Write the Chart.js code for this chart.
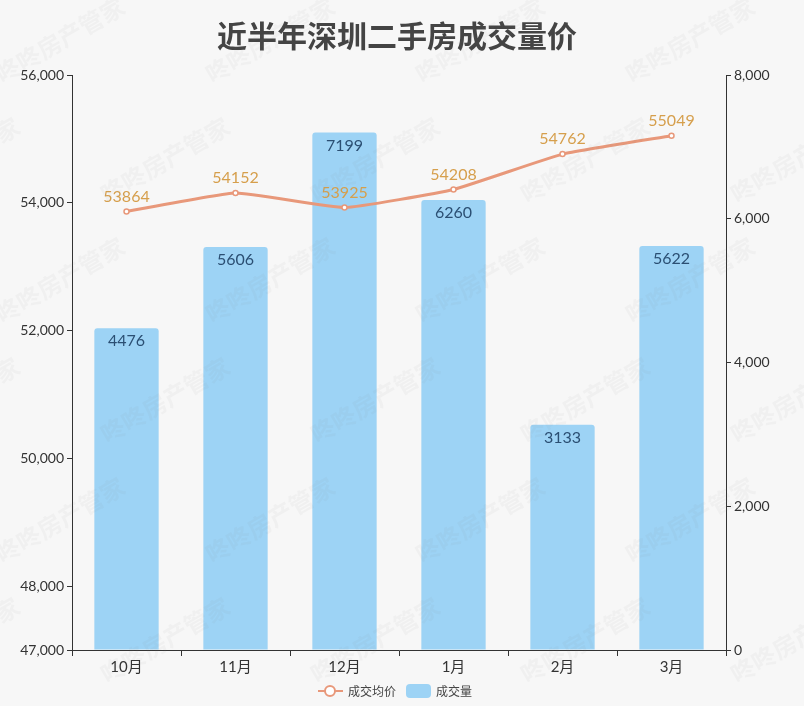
<!DOCTYPE html>
<html>
<head>
<meta charset="utf-8">
<script src="https://cdn.jsdelivr.net/npm/chart.js@4/dist/chart.umd.min.js"></script>
<style>
  html, body { margin: 0; padding: 0; background: #f7f7f7; }
  .chart-container { width: 804px; height: 706px; position: relative; }
</style>
</head>
<body>
<div class="chart-container"><canvas id="chart"></canvas></div>
<script>
// 数据
const months = ['10月', '11月', '12月', '1月', '2月', '3月'];
const volume = [4476, 5606, 7199, 6260, 3133, 5622]; // 成交量
const avgPrice = [53864, 54152, 53925, 54208, 54762, 55049]; // 成交均价
const priceTicks = [47000, 48000, 50000, 52000, 54000, 56000];
const volumeTicks = [0, 2000, 4000, 6000, 8000];

const FONT = "Lato, 'Noto Sans CJK SC', sans-serif";
const LINE_COLOR = '#e8987a';
const BAR_COLOR = '#9dd3f5';

// 标题、水印、数值标签、图例
const decorPlugin = {
  id: 'decor',
  beforeDraw(chart) {
    const ctx = chart.ctx;
    ctx.save();
    ctx.fillStyle = '#f7f7f7';
    ctx.fillRect(0, 0, chart.width, chart.height);
    ctx.fillStyle = '#444';
    ctx.font = "bold 30px 'Noto Sans CJK SC', sans-serif";
    ctx.textAlign = 'center';
    ctx.textBaseline = 'middle';
    ctx.fillText('近半年深圳二手房成交量价', 397, 36);
    ctx.restore();
  },
  afterDatasetsDraw(chart) {
    const ctx = chart.ctx;
    ctx.save();
    ctx.textAlign = 'center';
    ctx.textBaseline = 'middle';
    ctx.font = '16px ' + FONT;
    const barMeta = chart.getDatasetMeta(1);
    ctx.fillStyle = '#2b4f73';
    barMeta.data.forEach((el, i) => {
      ctx.fillText(String(volume[i]), el.x, el.y + 13);
    });
    const lineMeta = chart.getDatasetMeta(0);
    ctx.fillStyle = '#d69f4c';
    lineMeta.data.forEach((el, i) => {
      ctx.fillText(String(avgPrice[i]), el.x, el.y - 15);
    });

    // 水印
    ctx.fillStyle = 'rgba(120,120,120,0.055)';
    ctx.font = "bold 24px 'Noto Sans CJK SC', sans-serif";
    for (let r = -1; r < 7; r++) {
      for (let c = -1; c < 6; c++) {
        const x = c * 210 + (r % 2) * 105 + 60;
        const y = r * 120 + 40;
        ctx.save();
        ctx.translate(x, y);
        ctx.rotate(-Math.PI / 6);
        ctx.fillText('咚咚房产管家', 0, 0);
        ctx.restore();
      }
    }

    // 图例
    ctx.font = "12px 'Noto Sans CJK SC', sans-serif";
    ctx.textAlign = 'left';
    ctx.strokeStyle = LINE_COLOR;
    ctx.lineWidth = 2;
    ctx.beginPath();
    ctx.moveTo(318, 691);
    ctx.lineTo(343, 691);
    ctx.stroke();
    ctx.fillStyle = '#fff';
    ctx.beginPath();
    ctx.arc(330, 691, 5, 0, Math.PI * 2);
    ctx.fill();
    ctx.stroke();
    ctx.fillStyle = '#444';
    ctx.fillText('成交均价', 348, 691);
    ctx.fillStyle = BAR_COLOR;
    ctx.beginPath();
    ctx.roundRect(406, 684, 25, 14, 4);
    ctx.fill();
    ctx.fillStyle = '#444';
    ctx.fillText('成交量', 436, 691);
    ctx.restore();
  }
};

const ctx = document.getElementById('chart').getContext('2d');
new Chart(ctx, {
  data: {
    labels: months,
    datasets: [
      {
        type: 'line',
        label: '成交均价',
        data: avgPrice,
        yAxisID: 'yPrice',
        borderColor: LINE_COLOR,
        borderWidth: 3,
        tension: 0.12,
        pointRadius: 2.5,
        pointBackgroundColor: '#fff',
        pointBorderColor: LINE_COLOR,
        pointBorderWidth: 1.5,
        order: 0,
      },
      {
        type: 'bar',
        label: '成交量',
        data: volume,
        yAxisID: 'yVolume',
        backgroundColor: BAR_COLOR,
        borderRadius: 3,
        borderSkipped: 'bottom',
        categoryPercentage: 1,
        barPercentage: 0.59,
        order: 1,
      },
    ],
  },
  options: {
    responsive: true,
    maintainAspectRatio: false,
    animation: false,
    layout: { padding: { top: 75, left: 0, right: 0, bottom: 0 } },
    plugins: {
      legend: { display: false },
      title: { display: false },
      tooltip: { enabled: false },
    },
    scales: {
      x: {
        offset: true,
        grid: { drawOnChartArea: false, offset: true, tickLength: 6, color: '#333' },
        border: { color: '#333', width: 1 },
        ticks: { color: '#333', font: { size: 15, family: FONT }, padding: 2 },
        afterFit(scale) { scale.height = 56; },
      },
      yPrice: {
        position: 'left',
        min: 47000,
        max: 56000,
        grid: { drawOnChartArea: false, tickLength: 5, color: '#333' },
        border: { color: '#333', width: 1 },
        ticks: {
          color: '#333',
          font: { size: 14, family: FONT },
          padding: 3,
          callback: (v) => v.toLocaleString('en-US'),
        },
        afterBuildTicks(scale) { scale.ticks = priceTicks.map((v) => ({ value: v })); },
        afterFit(scale) { scale.width = 72; },
      },
      yVolume: {
        position: 'right',
        min: 0,
        max: 8000,
        grid: { drawOnChartArea: false, tickLength: 5, color: '#333' },
        border: { color: '#333', width: 1 },
        ticks: {
          color: '#333',
          font: { size: 14, family: FONT },
          padding: 3,
          callback: (v) => v.toLocaleString('en-US'),
        },
        afterBuildTicks(scale) { scale.ticks = volumeTicks.map((v) => ({ value: v })); },
        afterFit(scale) { scale.width = 78; },
      },
    },
  },
  plugins: [decorPlugin],
});
</script>
</body>
</html>
